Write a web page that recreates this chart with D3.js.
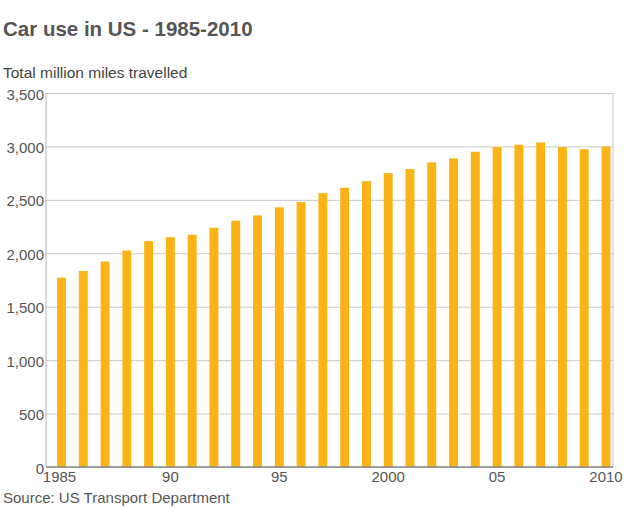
<!DOCTYPE html>
<html lang="en">
<head>
<meta charset="UTF-8">
<title>Car use in US - 1985-2010</title>
<script src="https://cdn.jsdelivr.net/npm/d3@7"></script>
<style>
  body { margin: 0; background: #fff; }
  text { font-family: "Liberation Sans", Arial, Helvetica, sans-serif; }
</style>
</head>
<body>
<svg width="624" height="508"></svg>
<script>
  // data
  var years = [1985,1986,1987,1988,1989,1990,1991,1992,1993,1994,1995,1996,1997,
               1998,1999,2000,2001,2002,2003,2004,2005,2006,2007,2008,2009,2010];
  var miles = [1772,1835,1923,2026,2114,2151,2173,2239,2305,2355,2430,2480,2563,
               2613,2675,2750,2788,2850,2888,2950,2994,3016,3038,2994,2975,3000];
  var yTicks = [0,500,1000,1500,2000,2500,3000,3500];
  var xTickYears = [1985,1990,1995,2000,2005,2010];
  var xTickLabels = ['1985','90','95','2000','05','2010'];

  var svg = d3.select('svg');
  var W = +svg.attr('width'), H = +svg.attr('height');
  var margin = {top: 93, right: 11, bottom: 41, left: 46};
  var plotL = margin.left, plotR = W - margin.right;
  var plotT = margin.top, plotB = H - margin.bottom;

  var x = d3.scaleBand()
      .domain(years)
      .range([plotL + 4.5, plotR + 4])
      .paddingInner(0.59)
      .paddingOuter(0.3);

  var y = d3.scaleLinear()
      .domain([0, 3500])
      .range([plotB, plotT]);

  // title texts
  svg.append('text').attr('x', 3).attr('y', 36)
      .attr('font-size', 20.5).attr('font-weight', 'bold').attr('fill', '#555')
      .text('Car use in US - 1985-2010');
  svg.append('text').attr('x', 3).attr('y', 78)
      .attr('font-size', 15.5).attr('fill', '#444')
      .text('Total million miles travelled');
  svg.append('text').attr('x', 3).attr('y', 503)
      .attr('font-size', 15).attr('fill', '#555')
      .text('Source: US Transport Department');

  // gridlines + y labels
  var yAxis = svg.append('g')
      .attr('transform', 'translate(' + plotL + ',0)')
      .call(d3.axisLeft(y).tickValues(yTicks).tickFormat(d3.format(','))
            .tickSize(-(plotR - plotL)).tickPadding(2));
  yAxis.select('.domain').remove();
  yAxis.selectAll('.tick line').attr('stroke', '#c8c8c8');
  yAxis.selectAll('.tick text')
      .attr('font-size', 15).attr('fill', '#555')
      .attr('font-family', '"Liberation Sans", Arial, sans-serif')
      .attr('dy', '0.4em');

  // frame
  svg.append('line').attr('x1', plotR).attr('x2', plotR).attr('y1', plotT).attr('y2', plotB)
      .attr('stroke', '#c8c8c8');
  svg.append('line').attr('x1', plotL).attr('x2', plotL).attr('y1', plotT).attr('y2', plotB)
      .attr('stroke', '#b0b0b0');

  // bars
  svg.append('g').selectAll('rect')
      .data(miles)
      .enter()
      .append('rect')
      .attr('x', function(d, i) { return x(years[i]); })
      .attr('width', x.bandwidth())
      .attr('y', function(d) { return y(d); })
      .attr('height', function(d) { return y(0) - y(d); })
      .attr('fill', '#fcb316');

  // x axis
  var xAxis = svg.append('g')
      .attr('transform', 'translate(0,' + plotB + ')')
      .call(d3.axisBottom(x).tickValues(xTickYears).tickSize(0).tickPadding(4)
            .tickFormat(function(d) { return xTickLabels[xTickYears.indexOf(d)]; }));
  xAxis.select('.domain').remove();
  xAxis.selectAll('.tick text')
      .attr('font-size', 15).attr('fill', '#555')
      .attr('font-family', '"Liberation Sans", Arial, sans-serif')
      .attr('dx', function(d) { return d === 1985 ? -2 : 0; });

  // baseline
  svg.append('line').attr('x1', plotL).attr('x2', plotR).attr('y1', plotB).attr('y2', plotB)
      .attr('stroke', '#888').attr('stroke-width', 1.5);
</script>
</body>
</html>
